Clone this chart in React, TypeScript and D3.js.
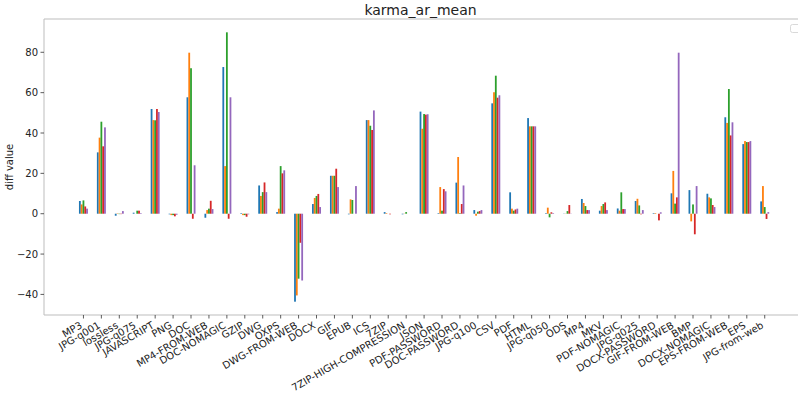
import React from "react";
import * as d3 from "d3";

const categories = [
  "MP3", "JPG-q001", "lossless", "JPG-q075", "JAVASCRIPT", "PNG", "DOC", "MP4-FROM-WEB",
  "DOC-NOMAGIC", "GZIP", "DWG", "OXPS", "DWG-FROM-WEB", "DOCX", "GIF", "EPUB", "ICS", "7ZIP",
  "7ZIP-HIGH-COMPRESSION", "JSON", "PDF-PASSWORD", "DOC-PASSWORD", "JPG-q100", "CSV", "PDF",
  "HTML", "JPG-q050", "ODS", "MP4", "MKV", "PDF-NOMAGIC", "JPG-q025", "DOCX-PASSWORD",
  "GIF-FROM-WEB", "BMP", "DOCX-NOMAGIC", "EPS-FROM-WEB", "EPS", "JPG-from-web",
];

const series1 = [6.3, 30.4, -1.0, 0.5, 51.9, -0.3, 57.7, -2.0, 72.7, 0.3, 14.0, 0.8, -43.6, 4.8, 18.8, -0.3, 46.4, 0.8, -0.3, 50.6, 0.3, 15.4, 1.8, 54.7, 10.6, 47.4, 0.3, 0.1, 7.3, 1.5, 2.6, 6.3, 0.3, 10.1, 11.7, 9.9, 47.8, 34.5, 6.1];
const series2 = [4.6, 37.7, 0.2, 0.0, 46.4, -0.7, 79.8, 1.8, 23.6, -0.7, 8.8, 2.5, -40.5, 7.8, 18.8, 7.1, 46.4, 0.3, 0.1, 42.1, 13.2, 28.1, -1.0, 60.2, 2.5, 43.3, 3.0, 0.1, 5.3, 3.8, 1.5, 7.4, 0.3, 21.2, -3.8, 8.1, 45.0, 36.0, 13.7];
const series3 = [6.6, 45.6, -0.2, 1.5, 46.3, -0.7, 72.1, 2.5, 89.9, -0.7, 10.7, 23.6, -32.2, 8.8, 18.8, 6.8, 43.6, 0.0, 0.8, 49.4, 1.5, 0.3, 1.0, 68.4, 1.5, 43.3, -1.8, 1.3, 3.8, 4.8, 10.6, 4.1, 0.0, 5.0, 4.6, 7.6, 61.8, 35.5, 3.3];
const series4 = [3.6, 33.4, -0.2, 1.5, 51.9, -1.3, -2.5, 6.4, -2.5, -1.5, 15.5, 20.0, -14.4, 9.8, 22.3, 0.0, 41.5, -0.3, 0.0, 49.1, 12.2, 4.8, 1.3, 57.5, 2.1, 43.3, 0.7, 4.3, 1.8, 5.6, 2.3, -0.3, -3.3, 8.1, -10.2, 4.3, 38.8, 35.5, -2.6];
const series5 = [2.5, 42.8, 1.3, 0.3, 50.4, -0.5, 24.0, 2.3, 57.7, -0.3, 10.7, 21.5, -33.1, 3.3, 13.2, 13.7, 51.2, 0.0, 0.0, 49.3, 11.1, 14.0, 1.8, 58.7, 2.5, 43.3, 0.3, 0.1, 1.8, 1.8, 2.3, 1.8, 0.7, 79.8, 13.7, 3.3, 45.3, 36.0, 0.8];

const seriesList = [series1, series2, series3, series4, series5];
const colors = ["#1f77b4", "#ff7f0e", "#2ca02c", "#d62728", "#9467bd"];
const yTicks = [-40, -20, 0, 20, 40, 60, 80];

const W = 798;
const H = 394;
const left = 44;
const right = 797;
const top = 19;
const bottom = 315;

export default function App() {
  const x = d3.scaleLinear().domain([-2.2, 39.8]).range([left, right]);
  const y = d3.scaleLinear().domain([-50.2, 96.5]).range([bottom, top]);
  const groupWidth = 0.5;
  const bw = groupWidth / seriesList.length;
  const font = "DejaVu Sans, sans-serif";
  const spine = "#bdbdbd";

  return (
    <svg
      width={W}
      height={H}
      style={{ position: "absolute", left: 0, top: 0, background: "#fff" }}
      fontFamily={font}
    >
      <rect x={0} y={0} width={W} height={H} fill="#fff" />
      {seriesList.map((s, j) =>
        s.map((v, i) => {
          const x0 = x(i - groupWidth / 2 + j * bw);
          const x1 = x(i - groupWidth / 2 + (j + 1) * bw);
          const y0 = y(Math.max(0, v));
          const y1 = y(Math.min(0, v));
          return (
            <rect
              key={`${j}-${i}`}
              x={x0}
              y={y0}
              width={x1 - x0}
              height={Math.max(0, y1 - y0)}
              fill={colors[j]}
            />
          );
        })
      )}
      {/* spines */}
      <line x1={left} x2={W} y1={top} y2={top} stroke={spine} strokeWidth={1} />
      <line x1={left} x2={W} y1={bottom} y2={bottom} stroke={spine} strokeWidth={1} />
      <line x1={left} x2={left} y1={top} y2={bottom} stroke={spine} strokeWidth={1} />
      {/* y ticks */}
      {yTicks.map((t) => (
        <g key={t} transform={`translate(${left},${y(t)})`}>
          <line x1={-3.5} x2={0} stroke="#333" strokeWidth={0.8} />
          <text x={-6} dy="0.35em" textAnchor="end" fontSize={10} fill="#222">
            {t < 0 ? `\u2212${Math.abs(t)}` : t}
          </text>
        </g>
      ))}
      {/* x ticks */}
      {categories.map((c, i) => (
        <g key={c} transform={`translate(${x(i)},${bottom})`}>
          <line y1={0} y2={3.5} stroke="#333" strokeWidth={0.8} />
          <text
            transform={`translate(-4,6) rotate(-30)`}
            textAnchor="end"
            dominantBaseline="hanging"
            fontSize={10}
            fill="#222"
          >
            {c}
          </text>
        </g>
      ))}
      {/* title */}
      <text x={(left + right) / 2} y={15} textAnchor="middle" fontSize={14} fill="#222">
        karma_ar_mean
      </text>
      {/* y label */}
      <text
        transform={`translate(13,${(top + bottom) / 2}) rotate(-90)`}
        textAnchor="middle"
        fontSize={10}
        fill="#222"
      >
        diff value
      </text>
      {/* empty legend */}
      <rect x={790.5} y={24.5} width={12} height={8} rx={2} fill="#fff" stroke="#d9d9d9" strokeWidth={1} />
    </svg>
  );
}
